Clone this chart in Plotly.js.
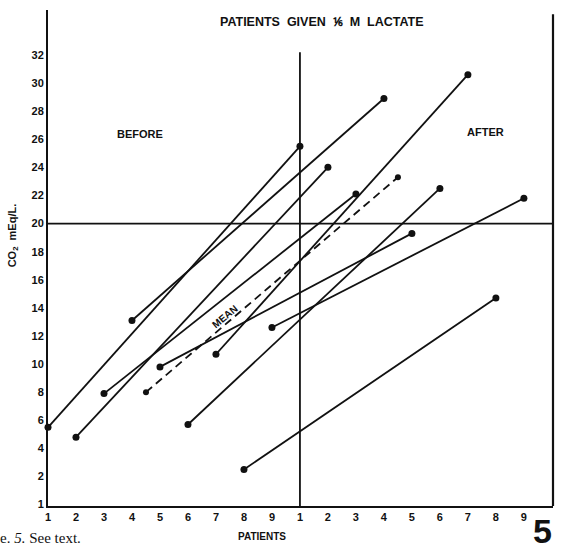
<!DOCTYPE html>
<html>
<head>
<meta charset="utf-8">
<script src="https://cdn.plot.ly/plotly-3.0.1.min.js"></script>
<style>html,body{margin:0;padding:0;background:#fff;}#chart{width:564px;height:549px;}</style>
</head>
<body>
<div id="chart"></div>
<script>
// Patients 1-9, CO2 (mEq/L) before and after 1/6 M lactate
const patients = [1, 2, 3, 4, 5, 6, 7, 8, 9];
const beforeCO2 = [5.5, 4.8, 7.9, 13.1, 9.8, 5.7, 10.7, 2.5, 12.6];
const afterCO2 = [25.5, 24.0, 22.1, 28.9, 19.3, 22.5, 30.6, 14.7, 21.8];
const meanPatient = 4.5;
const meanCO2 = [8.0, 23.3];
const xTickLabels = ['1','2','3','4','5','6','7','8','9','1','2','3','4','5','6','7','8','9'];
const yTickVals = [0, 2, 4, 6, 8, 10, 12, 14, 16, 18, 20, 22, 24, 26, 28, 30, 32];
const yTickLabels = ['1','2','4','6','8','10','12','14','16','18','20','22','24','26','28','30','32'];
const AFTER_OFFSET = 9; // after group drawn to the right of the centre line

const traces = [];
patients.forEach((p, i) => {
  traces.push({
    x: [p, p + AFTER_OFFSET],
    y: [beforeCO2[i], afterCO2[i]],
    mode: 'lines+markers',
    type: 'scatter',
    cliponaxis: false,
    line: {color: '#111', width: 1.8},
    marker: {color: '#111', size: 7},
    hoverinfo: 'skip',
    showlegend: false
  });
});
traces.push({
  x: [meanPatient, meanPatient + AFTER_OFFSET],
  y: meanCO2,
  mode: 'lines+markers',
  type: 'scatter',
  cliponaxis: false,
  line: {color: '#111', width: 1.8, dash: '8px,5px'},
  marker: {color: '#111', size: 6},
  showlegend: false
});

const SANS = 'Liberation Sans, Arial, sans-serif';
const boldFont = {family: SANS, size: 11, color: '#111', weight: 'bold'};
const xr = [1, 19.04];
const yr = [-0.1, 35.2];

function note(text, xref, yref, x, y, font, extra) {
  return Object.assign({text, xref, yref, x, y, xanchor: 'center', yanchor: 'middle',
    showarrow: false, font}, extra || {});
}

const layout = {
  width: 564, height: 549,
  margin: {l: 48, r: 11, t: 10, b: 43},
  paper_bgcolor: '#fff', plot_bgcolor: '#fff',
  showlegend: false,
  xaxis: {
    range: xr, showgrid: false, zeroline: false,
    showline: true, linecolor: '#111', linewidth: 2,
    tickmode: 'array',
    tickvals: xTickLabels.map((_, i) => i + 1),
    ticktext: xTickLabels,
    ticks: '', tickfont: boldFont
  },
  yaxis: {
    range: yr, showgrid: false, zeroline: false,
    showline: true, linecolor: '#111', linewidth: 2,
    tickmode: 'array', tickvals: yTickVals, ticktext: yTickLabels,
    ticks: '', tickfont: boldFont
  },
  shapes: [
    {type: 'line', xref: 'paper', yref: 'y', x0: 0, x1: 1, y0: 20, y1: 20, line: {color: '#111', width: 1.8}},
    {type: 'line', xref: 'x', yref: 'y', x0: 10, x1: 10, y0: -0.1, y1: 32.2, line: {color: '#111', width: 1.8}},
    {type: 'line', xref: 'paper', yref: 'y', x0: 1, x1: 1, y0: -0.1, y1: 34.9, line: {color: '#111', width: 2.2}}
  ],
  annotations: [
    note('PATIENTS  GIVEN  ⅙  M  LACTATE', 'paper', 'paper', 0.5426, 0.976,
         {family: SANS, size: 12.5, color: '#111', weight: 'bold'}),
    note('BEFORE', 'x', 'y', 4.29, 26.4, boldFont),
    note('AFTER', 'x', 'y', 16.64, 26.5, boldFont),
    note('MEAN', 'x', 'y', 7.32, 13.4, {family: SANS, size: 10, color: '#111', weight: 'bold'}, {textangle: -40}),
    note('CO<sub>2</sub>  mEq/L.', 'paper', 'paper', -0.069, 0.546,
         {family: SANS, size: 11, color: '#111', weight: 'bold'}, {textangle: -90}),
    note('PATIENTS', 'paper', 'paper', 0.424, -0.0605, {family: SANS, size: 10, color: '#111', weight: 'bold'}),
    note('e. <i>5.</i> See text.', 'paper', 'paper', -0.099, -0.0645,
         {family: 'Liberation Serif, Times New Roman, serif', size: 15, color: '#111'}, {xanchor: 'left'}),
    note('5', 'paper', 'paper', 0.98, -0.05, {family: SANS, size: 34, color: '#111', weight: 'bold'})
  ]
};

Plotly.newPlot('chart', traces, layout, {displayModeBar: false, staticPlot: true});
</script>
</body>
</html>
